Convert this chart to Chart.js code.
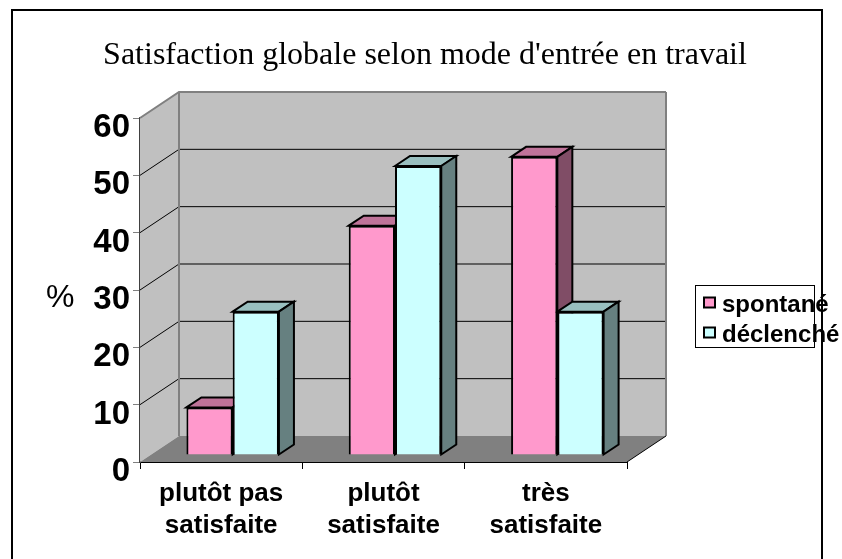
<!DOCTYPE html>
<html>
<head>
<meta charset="utf-8">
<script src="https://cdn.jsdelivr.net/npm/chart.js@4"></script>
<style>
  html, body { margin: 0; padding: 0; background: #fff; }
  #wrap { width: 842px; height: 559px; }
</style>
</head>
<body>
<div id="wrap"><canvas id="satisfactionChart"></canvas></div>
<script>
const chartTitle = "Satisfaction globale selon mode d'entrée en travail";
const categories = [["plutôt pas", "satisfaite"], ["plutôt", "satisfaite"], ["très", "satisfaite"]];
const spontane = [8.3, 40, 52];
const declenche = [25, 50.4, 25];
const seriesNames = ["spontané", "déclenché"];
const yTicks = [0, 10, 20, 30, 40, 50, 60];

// 3D look: the back wall sits behind the axes, bars stand part way in
const WALL_DX = 39, WALL_DY = -26;
const BAR_DX = 11.5, BAR_DY = -7;
const SIDE_DX = 15, SIDE_DY = -10;

function poly(ctx, pts, fill, stroke, lw) {
  ctx.beginPath();
  pts.forEach((p, i) => (i ? ctx.lineTo(p[0], p[1]) : ctx.moveTo(p[0], p[1])));
  ctx.closePath();
  ctx.fillStyle = fill;
  ctx.fill();
  if (stroke) {
    ctx.strokeStyle = stroke;
    ctx.lineWidth = lw || 1;
    ctx.stroke();
  }
}

const walls3d = {
  id: "walls3d",
  beforeDatasetsDraw(chart) {
    const { ctx, chartArea: a, scales: { y } } = chart;
    const b = a.bottom, t = a.top, l = a.left, r = a.right;
    ctx.save();
    // side wall, back wall, floor
    poly(ctx, [[l, t], [l + WALL_DX, t + WALL_DY], [l + WALL_DX, b + WALL_DY], [l, b]], "#c0c0c0");
    poly(ctx, [[l + WALL_DX, t + WALL_DY], [r + WALL_DX, t + WALL_DY], [r + WALL_DX, b + WALL_DY], [l + WALL_DX, b + WALL_DY]], "#c0c0c0");
    poly(ctx, [[l, b], [l + WALL_DX, b + WALL_DY], [r + WALL_DX, b + WALL_DY], [r, b]], "#808080");

    yTicks.forEach((v) => {
      if (v === 0) return;
      const py = y.getPixelForValue(v);
      ctx.beginPath();
      ctx.moveTo(l, py);
      ctx.lineTo(l + WALL_DX, py + WALL_DY);
      ctx.lineTo(r + WALL_DX, py + WALL_DY);
      ctx.strokeStyle = v === 60 ? "#808080" : "#000";
      ctx.lineWidth = v === 60 ? 2 : 1;
      ctx.stroke();
    });

    // grey wall edges
    ctx.strokeStyle = "#808080";
    ctx.lineWidth = 2;
    ctx.beginPath();
    ctx.moveTo(l + WALL_DX, t + WALL_DY);
    ctx.lineTo(l + WALL_DX, b + WALL_DY);
    ctx.moveTo(r + WALL_DX, t + WALL_DY);
    ctx.lineTo(r + WALL_DX, b + WALL_DY);
    ctx.stroke();

    // floor diagonal at the right end
    ctx.strokeStyle = "#000";
    ctx.lineWidth = 1;
    ctx.beginPath();
    ctx.moveTo(r, b);
    ctx.lineTo(r + WALL_DX, b + WALL_DY);
    ctx.stroke();

    // bars are shifted back into the box, top and side faces go first
    // so the front of the next bar covers them
    ctx.translate(BAR_DX, BAR_DY);
    const faceColors = [["#bf7399", "#804d66"], ["#99bfbf", "#668080"]];
    chart.data.datasets.forEach((ds, i) => {
      chart.getDatasetMeta(i).data.forEach((bar) => {
        const left = bar.x - bar.width / 2, right = bar.x + bar.width / 2;
        poly(ctx, [[left, bar.y], [left + SIDE_DX, bar.y + SIDE_DY], [right + SIDE_DX, bar.y + SIDE_DY], [right, bar.y]], faceColors[i][0], "#000", 2);
        poly(ctx, [[right, bar.y], [right + SIDE_DX, bar.y + SIDE_DY], [right + SIDE_DX, bar.base + SIDE_DY], [right, bar.base]], faceColors[i][1], "#000", 2);
      });
    });
  },
  afterDatasetsDraw(chart) {
    const { ctx, scales: { y } } = chart;
    ctx.restore();
    ctx.save();
    // outer frame of the picture, open at the bottom
    ctx.strokeStyle = "#000";
    ctx.lineWidth = 2;
    ctx.beginPath();
    ctx.moveTo(12, 559);
    ctx.lineTo(12, 10);
    ctx.lineTo(822, 10);
    ctx.lineTo(822, 559);
    ctx.stroke();

    // axis title, stays upright
    ctx.fillStyle = "#000";
    ctx.font = "32px 'Liberation Sans'";
    ctx.textBaseline = "middle";
    ctx.textAlign = "left";
    ctx.fillText("%", 46, y.getPixelForValue(30) + 8);

    // legend box, the names run out of it like in the original
    ctx.lineWidth = 1;
    ctx.strokeRect(695.5, 285.5, 119, 62);
    const swatches = ["#ff99cc", "#ccffff"];
    ctx.font = "bold 24px 'Liberation Sans'";
    seriesNames.forEach((name, i) => {
      const yy = 302.5 + i * 30;
      ctx.fillStyle = swatches[i];
      ctx.fillRect(704, yy - 5, 11, 10);
      ctx.strokeStyle = "#000";
      ctx.lineWidth = 2;
      ctx.strokeRect(704, yy - 5, 11, 10);
      ctx.fillStyle = "#000";
      ctx.fillText(name, 722, yy + 3);
    });
    ctx.restore();
  },
};

new Chart(document.getElementById("satisfactionChart"), {
  type: "bar",
  data: {
    labels: categories,
    datasets: [
      { label: seriesNames[0], data: spontane, backgroundColor: "#ff99cc", borderColor: "#000", borderWidth: 2 },
      { label: seriesNames[1], data: declenche, backgroundColor: "#ccffff", borderColor: "#000", borderWidth: 2 },
    ],
  },
  options: {
    responsive: true,
    maintainAspectRatio: false,
    animation: false,
    layout: { padding: { left: 8, right: 0, top: 0, bottom: 0 } },
    datasets: { bar: { categoryPercentage: 0.57, barPercentage: 1 } },
    plugins: {
      legend: { display: false },
      tooltip: { enabled: false },
      title: {
        display: true,
        text: chartTitle,
        color: "#000",
        font: { family: "'Liberation Serif'", size: 32, weight: "normal" },
        padding: { top: 36, bottom: 43.6 },
      },
    },
    scales: {
      x: {
        grid: { display: true, drawOnChartArea: false, color: "#000", tickLength: 7, offset: true },
        border: { color: "#000", width: 1 },
        ticks: { color: "#000", font: { family: "'Liberation Sans'", size: 26, weight: "bold", lineHeight: 1.23 }, maxRotation: 0, autoSkip: false, padding: 9 },
        afterFit(s) { s.height = 97; },
      },
      y: {
        min: 0,
        max: 60,
        afterBuildTicks(s) { s.ticks = yTicks.map((v) => ({ value: v })); },
        grid: { drawOnChartArea: false, color: "#808080", tickLength: 7 },
        border: { color: "#404040", width: 2 },
        ticks: { color: "#000", font: { family: "'Liberation Sans'", size: 33, weight: "bold" }, padding: 3, labelOffset: 10 },
        afterFit(s) { s.width = 132; },
      },
      // empty gutter on the right keeps room for the legend and leaves the title centred
      gutter: {
        type: "linear",
        position: "right",
        grid: { display: false },
        border: { display: false },
        ticks: { display: false },
        afterFit(s) { s.width = 215; },
      },
    },
  },
  plugins: [walls3d],
});
</script>
</body>
</html>
